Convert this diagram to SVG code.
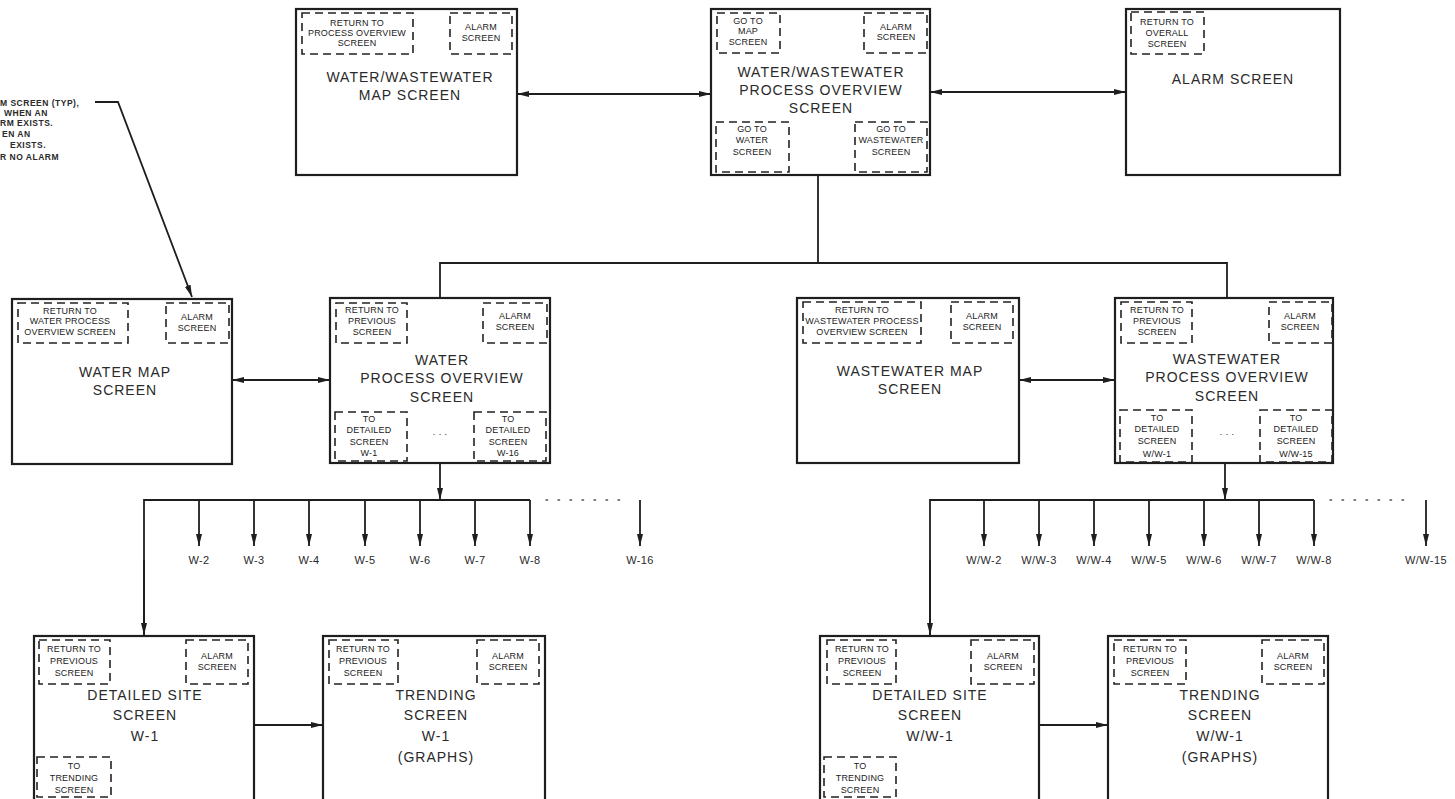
<svg xmlns="http://www.w3.org/2000/svg" width="1455" height="799" viewBox="0 0 1455 799">
<style>
.box{fill:#fff;stroke:#1e1e1e;stroke-width:2.2}
.dash{fill:none;stroke:#222;stroke-width:1.6;stroke-dasharray:8 5}
.t{font-family:"Liberation Sans",Arial,sans-serif;font-size:14px;fill:#2a2a2a;text-anchor:middle;letter-spacing:1px}
.s{font-family:"Liberation Sans",Arial,sans-serif;font-size:9px;fill:#222;text-anchor:middle;letter-spacing:0.2px}
.l{font-family:"Liberation Sans",Arial,sans-serif;font-size:11px;fill:#2a2a2a;text-anchor:middle;letter-spacing:0.4px}
.n{font-family:"Liberation Sans",Arial,sans-serif;font-size:8.5px;font-weight:bold;fill:#2a2a2a;letter-spacing:0.5px}
.c{fill:none;stroke:#1e1e1e;stroke-width:1.8}
.dots{fill:none;stroke:#555;stroke-width:1.6;stroke-dasharray:1.5 10.5;stroke-linecap:round}
</style>
<defs>
<marker id="ah" viewBox="0 0 12 6" refX="12" refY="3" markerWidth="12" markerHeight="6" markerUnits="userSpaceOnUse" orient="auto-start-reverse">
<path d="M0,0 L12,3 L0,6 z" fill="#1e1e1e"/>
</marker>
</defs>
<rect width="1455" height="799" fill="#fff"/>

<g id="note">
<text class="n" x="0" y="106">M SCREEN (TYP),</text>
<text class="n" x="4" y="116">WHEN AN</text>
<text class="n" x="0" y="126">RM EXISTS.</text>
<text class="n" x="2" y="137">EN AN</text>
<text class="n" x="10" y="148">EXISTS.</text>
<text class="n" x="0" y="160">R NO ALARM</text>
</g>

<g id="connectors">
<polyline class="c" points="95,102 118,102 192,297" marker-end="url(#ah)"/>
<line class="c" x1="517" y1="94" x2="711" y2="94" marker-start="url(#ah)" marker-end="url(#ah)"/>
<line class="c" x1="930" y1="92" x2="1126" y2="92" marker-start="url(#ah)" marker-end="url(#ah)"/>
<polyline class="c" points="818,175 818,263"/>
<polyline class="c" points="440,298 440,263 1227,263 1227,298"/>
<line class="c" x1="232" y1="380" x2="330" y2="380" marker-start="url(#ah)" marker-end="url(#ah)"/>
<line class="c" x1="1019" y1="380" x2="1115" y2="380" marker-start="url(#ah)" marker-end="url(#ah)"/>
<line class="c" x1="440" y1="463" x2="440" y2="500" marker-end="url(#ah)"/>
<polyline class="c" points="144,635 144,500 530,500"/>
<line class="c" x1="144" y1="560" x2="144" y2="635" marker-end="url(#ah)"/>
<line class="c" x1="199" y1="500" x2="199" y2="546" marker-end="url(#ah)"/>
<line class="c" x1="254" y1="500" x2="254" y2="546" marker-end="url(#ah)"/>
<line class="c" x1="309" y1="500" x2="309" y2="546" marker-end="url(#ah)"/>
<line class="c" x1="365" y1="500" x2="365" y2="546" marker-end="url(#ah)"/>
<line class="c" x1="420" y1="500" x2="420" y2="546" marker-end="url(#ah)"/>
<line class="c" x1="475" y1="500" x2="475" y2="546" marker-end="url(#ah)"/>
<line class="c" x1="530" y1="500" x2="530" y2="546" marker-end="url(#ah)"/>
<line class="c" x1="640" y1="500" x2="640" y2="546" marker-end="url(#ah)"/>
<line class="dots" x1="546" y1="500" x2="624" y2="500"/>
<line class="c" x1="254" y1="725" x2="323" y2="725" marker-end="url(#ah)"/>
<line class="c" x1="1225" y1="463" x2="1225" y2="500" marker-end="url(#ah)"/>
<polyline class="c" points="930,635 930,500 1314,500"/>
<line class="c" x1="930" y1="560" x2="930" y2="635" marker-end="url(#ah)"/>
<line class="c" x1="984" y1="500" x2="984" y2="546" marker-end="url(#ah)"/>
<line class="c" x1="1039" y1="500" x2="1039" y2="546" marker-end="url(#ah)"/>
<line class="c" x1="1094" y1="500" x2="1094" y2="546" marker-end="url(#ah)"/>
<line class="c" x1="1149" y1="500" x2="1149" y2="546" marker-end="url(#ah)"/>
<line class="c" x1="1204" y1="500" x2="1204" y2="546" marker-end="url(#ah)"/>
<line class="c" x1="1259" y1="500" x2="1259" y2="546" marker-end="url(#ah)"/>
<line class="c" x1="1314" y1="500" x2="1314" y2="546" marker-end="url(#ah)"/>
<line class="c" x1="1426" y1="500" x2="1426" y2="546" marker-end="url(#ah)"/>
<line class="dots" x1="1330" y1="500" x2="1410" y2="500"/>
<line class="c" x1="1039" y1="725" x2="1108" y2="725" marker-end="url(#ah)"/>
</g>

<g id="labels">
<text class="l" x="199" y="564">W-2</text>
<text class="l" x="254" y="564">W-3</text>
<text class="l" x="309" y="564">W-4</text>
<text class="l" x="365" y="564">W-5</text>
<text class="l" x="420" y="564">W-6</text>
<text class="l" x="475" y="564">W-7</text>
<text class="l" x="530" y="564">W-8</text>
<text class="l" x="640" y="564">W-16</text>
<text class="l" x="984" y="564">W/W-2</text>
<text class="l" x="1039" y="564">W/W-3</text>
<text class="l" x="1094" y="564">W/W-4</text>
<text class="l" x="1149" y="564">W/W-5</text>
<text class="l" x="1204" y="564">W/W-6</text>
<text class="l" x="1259" y="564">W/W-7</text>
<text class="l" x="1314" y="564">W/W-8</text>
<text class="l" x="1426" y="564">W/W-15</text>
</g>

<g id="ww-map">
<rect class="box" x="296" y="9" width="221" height="166"/>
<rect class="dash" x="302" y="13" width="111" height="41"/>
<text class="s" x="357" y="26">RETURN TO</text>
<text class="s" x="357" y="36">PROCESS OVERVIEW</text>
<text class="s" x="357" y="46">SCREEN</text>
<rect class="dash" x="450" y="13" width="62" height="41"/>
<text class="s" x="481" y="30">ALARM</text>
<text class="s" x="481" y="41">SCREEN</text>
<text class="t" x="410" y="82">WATER/WASTEWATER</text>
<text class="t" x="410" y="100">MAP SCREEN</text>
</g>

<g id="ww-overview">
<rect class="box" x="711" y="9" width="219" height="166"/>
<rect class="dash" x="717" y="13" width="63" height="40"/>
<text class="s" x="748" y="24">GO TO</text>
<text class="s" x="748" y="34">MAP</text>
<text class="s" x="748" y="45">SCREEN</text>
<rect class="dash" x="864" y="13" width="63" height="40"/>
<text class="s" x="896" y="30">ALARM</text>
<text class="s" x="896" y="40">SCREEN</text>
<text class="t" x="821" y="77">WATER/WASTEWATER</text>
<text class="t" x="821" y="95">PROCESS OVERVIEW</text>
<text class="t" x="821" y="113">SCREEN</text>
<rect class="dash" x="716" y="122" width="73" height="50"/>
<text class="s" x="752" y="132">GO TO</text>
<text class="s" x="752" y="143">WATER</text>
<text class="s" x="752" y="155">SCREEN</text>
<rect class="dash" x="855" y="122" width="72" height="50"/>
<text class="s" x="891" y="132">GO TO</text>
<text class="s" x="891" y="143">WASTEWATER</text>
<text class="s" x="891" y="155">SCREEN</text>
</g>

<g id="alarm">
<rect class="box" x="1126" y="9" width="214" height="166"/>
<rect class="dash" x="1131" y="12" width="73" height="42"/>
<text class="s" x="1167" y="25">RETURN TO</text>
<text class="s" x="1167" y="36">OVERALL</text>
<text class="s" x="1167" y="47">SCREEN</text>
<text class="t" x="1233" y="84">ALARM  SCREEN</text>
</g>

<g id="water-map">
<rect class="box" x="12" y="299" width="220" height="165"/>
<rect class="dash" x="18" y="303" width="110" height="40"/>
<text class="s" x="70" y="314">RETURN TO</text>
<text class="s" x="70" y="324">WATER PROCESS</text>
<text class="s" x="70" y="335">OVERVIEW SCREEN</text>
<rect class="dash" x="166" y="303" width="63" height="40"/>
<text class="s" x="197" y="320">ALARM</text>
<text class="s" x="197" y="331">SCREEN</text>
<text class="t" x="125" y="377">WATER MAP</text>
<text class="t" x="125" y="395">SCREEN</text>
</g>

<g id="water-overview">
<rect class="box" x="330" y="298" width="220" height="165"/>
<rect class="dash" x="336" y="303" width="71" height="40"/>
<text class="s" x="372" y="313">RETURN TO</text>
<text class="s" x="372" y="324">PREVIOUS</text>
<text class="s" x="372" y="335">SCREEN</text>
<rect class="dash" x="483" y="303" width="64" height="40"/>
<text class="s" x="515" y="319">ALARM</text>
<text class="s" x="515" y="330">SCREEN</text>
<text class="t" x="442" y="365">WATER</text>
<text class="t" x="442" y="383">PROCESS OVERVIEW</text>
<text class="t" x="442" y="402">SCREEN</text>
<rect class="dash" x="335" y="412" width="72" height="49"/>
<text class="s" x="369" y="422">TO</text>
<text class="s" x="369" y="433">DETAILED</text>
<text class="s" x="369" y="445">SCREEN</text>
<text class="s" x="369" y="456">W-1</text>
<text class="s" x="440" y="437">·  ·  ·</text>
<rect class="dash" x="474" y="412" width="72" height="49"/>
<text class="s" x="508" y="422">TO</text>
<text class="s" x="508" y="433">DETAILED</text>
<text class="s" x="508" y="445">SCREEN</text>
<text class="s" x="508" y="456">W-16</text>
</g>

<g id="wastewater-map">
<rect class="box" x="797" y="298" width="222" height="165"/>
<rect class="dash" x="803" y="302" width="118" height="41"/>
<text class="s" x="862" y="313">RETURN TO</text>
<text class="s" x="862" y="324">WASTEWATER PROCESS</text>
<text class="s" x="862" y="335">OVERVIEW SCREEN</text>
<rect class="dash" x="951" y="302" width="62" height="41"/>
<text class="s" x="982" y="319">ALARM</text>
<text class="s" x="982" y="330">SCREEN</text>
<text class="t" x="910" y="376">WASTEWATER  MAP</text>
<text class="t" x="910" y="394">SCREEN</text>
</g>

<g id="wastewater-overview">
<rect class="box" x="1115" y="298" width="218" height="165"/>
<rect class="dash" x="1121" y="302" width="71" height="41"/>
<text class="s" x="1157" y="313">RETURN TO</text>
<text class="s" x="1157" y="324">PREVIOUS</text>
<text class="s" x="1157" y="335">SCREEN</text>
<rect class="dash" x="1269" y="302" width="63" height="41"/>
<text class="s" x="1300" y="319">ALARM</text>
<text class="s" x="1300" y="330">SCREEN</text>
<text class="t" x="1227" y="364">WASTEWATER</text>
<text class="t" x="1227" y="382">PROCESS OVERVIEW</text>
<text class="t" x="1227" y="401">SCREEN</text>
<rect class="dash" x="1120" y="410" width="72" height="52"/>
<text class="s" x="1157" y="421">TO</text>
<text class="s" x="1157" y="432">DETAILED</text>
<text class="s" x="1157" y="444">SCREEN</text>
<text class="s" x="1157" y="457">W/W-1</text>
<text class="s" x="1227" y="437">·  ·  ·</text>
<rect class="dash" x="1260" y="410" width="72" height="52"/>
<text class="s" x="1296" y="421">TO</text>
<text class="s" x="1296" y="432">DETAILED</text>
<text class="s" x="1296" y="444">SCREEN</text>
<text class="s" x="1296" y="457">W/W-15</text>
</g>

<g id="detailed-w1">
<rect class="box" x="34" y="636" width="220" height="175"/>
<rect class="dash" x="39" y="640" width="71" height="44"/>
<text class="s" x="74" y="652">RETURN TO</text>
<text class="s" x="74" y="664">PREVIOUS</text>
<text class="s" x="74" y="676">SCREEN</text>
<rect class="dash" x="186" y="640" width="62" height="44"/>
<text class="s" x="217" y="659">ALARM</text>
<text class="s" x="217" y="670">SCREEN</text>
<text class="t" x="145" y="700">DETAILED SITE</text>
<text class="t" x="145" y="720">SCREEN</text>
<text class="t" x="145" y="741">W-1</text>
<rect class="dash" x="37" y="757" width="74" height="40"/>
<text class="s" x="74" y="769">TO</text>
<text class="s" x="74" y="781">TRENDING</text>
<text class="s" x="74" y="793">SCREEN</text>
</g>

<g id="trending-w1">
<rect class="box" x="323" y="636" width="222" height="175"/>
<rect class="dash" x="329" y="640" width="69" height="44"/>
<text class="s" x="363" y="652">RETURN TO</text>
<text class="s" x="363" y="664">PREVIOUS</text>
<text class="s" x="363" y="676">SCREEN</text>
<rect class="dash" x="477" y="640" width="62" height="44"/>
<text class="s" x="508" y="659">ALARM</text>
<text class="s" x="508" y="670">SCREEN</text>
<text class="t" x="436" y="700">TRENDING</text>
<text class="t" x="436" y="720">SCREEN</text>
<text class="t" x="436" y="741">W-1</text>
<text class="t" x="436" y="762">(GRAPHS)</text>
</g>

<g id="detailed-ww1">
<rect class="box" x="820" y="636" width="219" height="175"/>
<rect class="dash" x="827" y="640" width="69" height="44"/>
<text class="s" x="862" y="652">RETURN TO</text>
<text class="s" x="862" y="664">PREVIOUS</text>
<text class="s" x="862" y="676">SCREEN</text>
<rect class="dash" x="971" y="640" width="63" height="44"/>
<text class="s" x="1003" y="659">ALARM</text>
<text class="s" x="1003" y="670">SCREEN</text>
<text class="t" x="930" y="700">DETAILED SITE</text>
<text class="t" x="930" y="720">SCREEN</text>
<text class="t" x="930" y="741">W/W-1</text>
<rect class="dash" x="824" y="757" width="72" height="40"/>
<text class="s" x="860" y="769">TO</text>
<text class="s" x="860" y="781">TRENDING</text>
<text class="s" x="860" y="793">SCREEN</text>
</g>

<g id="trending-ww1">
<rect class="box" x="1108" y="636" width="220" height="175"/>
<rect class="dash" x="1114" y="640" width="72" height="44"/>
<text class="s" x="1150" y="652">RETURN TO</text>
<text class="s" x="1150" y="664">PREVIOUS</text>
<text class="s" x="1150" y="676">SCREEN</text>
<rect class="dash" x="1262" y="640" width="62" height="44"/>
<text class="s" x="1293" y="659">ALARM</text>
<text class="s" x="1293" y="670">SCREEN</text>
<text class="t" x="1220" y="700">TRENDING</text>
<text class="t" x="1220" y="720">SCREEN</text>
<text class="t" x="1220" y="741">W/W-1</text>
<text class="t" x="1220" y="762">(GRAPHS)</text>
</g>
</svg>
